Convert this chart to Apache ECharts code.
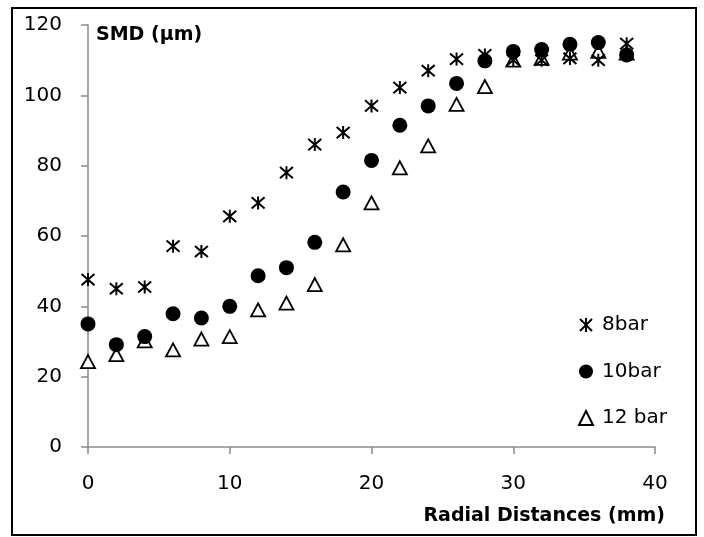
<!DOCTYPE html>
<html>
<head>
<meta charset="utf-8">
<script src="https://cdn.jsdelivr.net/npm/echarts@6/dist/echarts.min.js"></script>
<style>
html,body{margin:0;padding:0;background:#fff;}
#chart{width:704px;height:537px;}
</style>
</head>
<body>
<div id="chart"></div>
<script>
// Radial distance (mm)
const radialDistances = [0, 2, 4, 6, 8, 10, 12, 14, 16, 18, 20, 22, 24, 26, 28, 30, 32, 34, 36, 38];
// SMD (µm) per pressure
const smd8bar  = [47.6, 45.0, 45.5, 57.1, 55.6, 65.6, 69.4, 78.0, 86.0, 89.4, 97.0, 102.2, 107.0, 110.3, 111.5, 110.0, 110.0, 110.5, 110.0, 114.7];
const smd10bar = [35.0, 29.1, 31.4, 37.9, 36.7, 40.0, 48.7, 51.0, 58.2, 72.5, 81.5, 91.5, 97.0, 103.4, 109.8, 112.5, 113.0, 114.5, 115.0, 111.5];
const smd12bar = [24.3, 26.3, 30.2, 27.6, 30.7, 31.4, 39.0, 40.9, 46.2, 57.5, 69.4, 79.4, 85.6, 97.4, 102.5, 110.0, 110.5, 112.0, 112.5, 112.0];
const seriesNames = ['8bar', '10bar', '12 bar'];
const xAxisTitle = 'Radial Distances (mm)';
const yAxisTitle = 'SMD (µm)';

const pair = (ys) => radialDistances.map((x, i) => [x, ys[i]]);
const FONT = 'DejaVu Sans';
const axisGray = '#8a8a8a';
const asteriskPath = 'path://M5,0 L5,10 M0.7,0.7 L9.3,9.3 M0.7,9.3 L9.3,0.7';

const chart = echarts.init(document.getElementById('chart'));
chart.setOption({
  animation: false,
  backgroundColor: '#ffffff',
  textStyle: { fontFamily: FONT },
  grid: { left: 88, right: 49, top: 25, bottom: 90, containLabel: false },
  graphic: [{
    type: 'rect',
    shape: { x: 12, y: 8, width: 684, height: 527 },
    style: { fill: 'none', stroke: '#000', lineWidth: 2 },
    silent: true
  }],
  legend: {
    orient: 'vertical',
    left: 573,
    top: 310,
    itemWidth: 14,
    itemHeight: 14,
    itemGap: 26.5,
    data: seriesNames,
    textStyle: { fontFamily: FONT, fontSize: 20, color: '#000', lineHeight: 20, padding: [0, 0, 0, 4] }
  },
  xAxis: {
    type: 'value',
    min: 0, max: 40, interval: 10,
    name: xAxisTitle,
    nameLocation: 'end',
    nameGap: 10,
    nameTextStyle: { fontFamily: FONT, fontSize: 19, fontWeight: 'bold', color: '#000', align: 'right', verticalAlign: 'top', padding: [60, 0, 0, 0] },
    axisLine: { show: true, lineStyle: { color: axisGray, width: 1.5 } },
    axisTick: { show: true, length: 7, lineStyle: { color: axisGray, width: 1.5 } },
    axisLabel: { margin: 27, fontFamily: FONT, fontSize: 20, color: '#000' },
    splitLine: { show: false }
  },
  yAxis: {
    type: 'value',
    min: 0, max: 120, interval: 20,
    name: yAxisTitle,
    nameLocation: 'end',
    nameGap: -10,
    nameTextStyle: { fontFamily: FONT, fontSize: 19, fontWeight: 'bold', color: '#000', align: 'left', verticalAlign: 'middle', padding: [0, 0, 0, 8] },
    axisLine: { show: true, lineStyle: { color: axisGray, width: 1.5 } },
    axisTick: { show: true, length: 7, lineStyle: { color: axisGray, width: 1.5 } },
    axisLabel: { margin: 26, fontFamily: FONT, fontSize: 20, color: '#000' },
    splitLine: { show: false }
  },
  series: [
    {
      name: seriesNames[2],
      type: 'scatter',
      data: pair(smd12bar),
      symbol: 'triangle',
      symbolSize: [14, 13],
      itemStyle: { color: '#ffffff', borderColor: '#000', borderWidth: 1.8, opacity: 1 }
    },
    {
      name: seriesNames[1],
      type: 'scatter',
      data: pair(smd10bar),
      symbol: 'circle',
      symbolSize: 15,
      itemStyle: { color: '#000', opacity: 1 }
    },
    {
      name: seriesNames[0],
      type: 'scatter',
      data: pair(smd8bar),
      symbol: asteriskPath,
      symbolSize: 13,
      itemStyle: { color: 'rgba(0,0,0,0)', borderColor: '#000', borderWidth: 2, opacity: 1 }
    }
  ]
});
</script>
</body>
</html>
